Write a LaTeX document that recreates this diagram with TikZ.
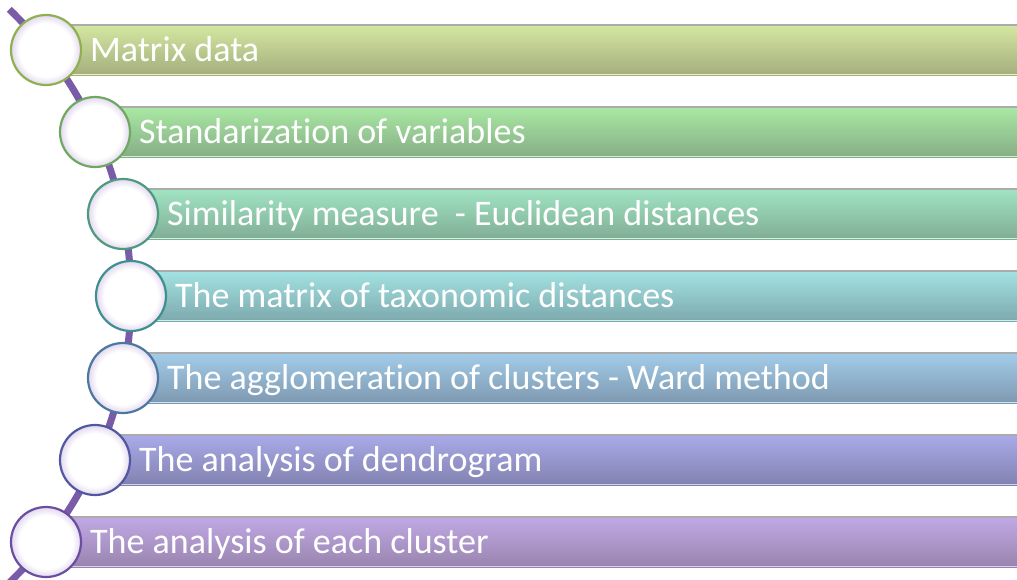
\documentclass[tikz,border=0pt]{standalone}
\usepackage{fontspec}
\setmainfont{Carlito}[Ligatures={NoCommon}]
\definecolor{lavender}{HTML}{E2D8EE}
\pgfdeclareradialshading{dotfill}{\pgfpoint{0bp}{0bp}}{%
  color(0bp)=(white); color(19bp)=(white); color(25bp)=(lavender); color(50bp)=(lavender)}
\begin{document}
\begin{tikzpicture}[x=1pt,y=-1pt,
  bar/.style={rectangle, anchor=west, minimum height=50pt, inner sep=0pt, draw=none},
  dot/.style={circle, minimum size=70pt, inner sep=0pt, line width=2.2pt, shading=dotfill},
  lbl/.style={anchor=base west, inner sep=0pt, text=white, font=\fontsize{36}{42}\selectfont},
  topline/.style={draw=edgegray, line width=2pt},
  spine/.style={draw=spinepurple, line width=7pt}]
\definecolor{spinepurple}{HTML}{7A5BA8}
\definecolor{edgegray}{HTML}{ABABAB}
% bar colours: top / middle / bottom / lower rim / circle outline
\definecolor{aT}{HTML}{D4E7A0}\definecolor{aM}{HTML}{BACD89}\definecolor{aB}{HTML}{A4AE7E}\definecolor{aR}{HTML}{E4F4C2}\definecolor{aO}{HTML}{8FB050}
\definecolor{bT}{HTML}{A9E9A3}\definecolor{bM}{HTML}{97CE91}\definecolor{bB}{HTML}{86AD86}\definecolor{bR}{HTML}{CCF4C8}\definecolor{bO}{HTML}{6EA862}
\definecolor{cT}{HTML}{A0E4C3}\definecolor{cM}{HTML}{8ECCA9}\definecolor{cB}{HTML}{81AD94}\definecolor{cR}{HTML}{C6F4DE}\definecolor{cO}{HTML}{4E9A80}
\definecolor{dT}{HTML}{A3E2E2}\definecolor{dM}{HTML}{8CCACA}\definecolor{dB}{HTML}{7DA9AD}\definecolor{dR}{HTML}{C8F2F2}\definecolor{dO}{HTML}{3E9090}
\definecolor{eT}{HTML}{A3CCE9}\definecolor{eM}{HTML}{8EB2CC}\definecolor{eB}{HTML}{7E99B0}\definecolor{eR}{HTML}{C8E4F6}\definecolor{eO}{HTML}{4C78A0}
\definecolor{fT}{HTML}{A9AAE9}\definecolor{fM}{HTML}{9498D0}\definecolor{fB}{HTML}{8282B0}\definecolor{fR}{HTML}{CFD0F6}\definecolor{fO}{HTML}{5258A0}
\definecolor{gT}{HTML}{C1A9E5}\definecolor{gM}{HTML}{AC95CC}\definecolor{gB}{HTML}{9884AE}\definecolor{gR}{HTML}{DCCFF2}\definecolor{gO}{HTML}{6A4EA0}

\path[use as bounding box] (0,0) rectangle (1017,579);
\clip (0,0) rectangle (1017,579);

% curved spine behind the steps
\draw[spine] (-267.5,296) ++(-46:398.5) arc[start angle=-46, end angle=50, radius=398.5];

% steps: circle centre x, row centre y, colour prefix, label
\foreach \i/\cx/\cy/\k/\txt in {
  1/46/50/a/{Matrix data},
  2/95/132/b/{Standarization of variables},
  3/123/214/c/{Similarity measure\ \ - Euclidean distances},
  4/131/296/d/{The matrix of taxonomic distances},
  5/123/378/e/{The agglomeration of clusters - Ward method},
  6/95/460/f/{The analysis of dendrogram},
  7/46/542/g/{The analysis of each cluster}}{
  \node[bar, minimum width={1080-\cx}, top color=\k T, middle color=\k M, bottom color=\k B] (b\i) at (\cx,\cy) {};
  \draw[topline] (b\i.north west) -- (b\i.north east);
  \draw[draw=\k R, line width=1.5pt] ([yshift=0.75pt]b\i.south west) -- ([yshift=0.75pt]b\i.south east);
  \node[dot, draw=\k O] (c\i) at (\cx,\cy) {};
  \node[lbl] (t\i) at (\cx+44,\cy+11) {\txt};
}
\end{tikzpicture}
\end{document}
